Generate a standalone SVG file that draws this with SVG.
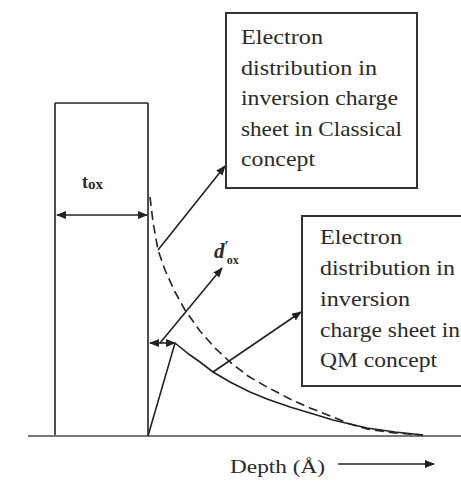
<svg xmlns="http://www.w3.org/2000/svg" width="461" height="485" viewBox="0 0 461 485">
  <style>
    .ln { stroke: #222; stroke-width: 1.6; fill: none; }
    .box { stroke: #333; stroke-width: 2; fill: #fff; }
    .txt { font-family: "Liberation Serif", "Times New Roman", serif; font-size: 21px; fill: #2a2a2a; }
    .lbl { font-family: "Liberation Serif", "Times New Roman", serif; fill: #2a2a2a; }
  </style>
  <defs>
    <marker id="ah" viewBox="0 0 10 8" refX="9" refY="4" markerWidth="10" markerHeight="8" markerUnits="userSpaceOnUse" orient="auto-start-reverse">
      <path d="M0,0 L10,4 L0,8 Z" fill="#222"/>
    </marker>
  </defs>
  <rect width="461" height="485" fill="#fff"/>

  <g id="oxide">
    <line class="ln" x1="55" y1="103" x2="55" y2="436"/>
    <line class="ln" x1="55" y1="103" x2="148" y2="103"/>
    <line class="ln" x1="148" y1="103" x2="148" y2="436"/>
  </g>

  <g id="baseline">
    <line x1="28" y1="436" x2="461" y2="436" stroke="#777" stroke-width="2"/>
  </g>

  <g id="classical-curve">
    <polyline class="ln" stroke-dasharray="9,5" points="150,197 153,222 158,250 165,270 175,292 185,310 200,331 215,348 230,362 248,376 267,387 290,399 310,408 333,417 350,424 367,429 395,433 423,435"/>
  </g>

  <g id="qm-curve">
    <polyline class="ln" points="148,436 175,343 190,355 200,362 213,372 230,382 250,392 267,399 290,407 310,413 333,420 367,428 395,432 423,435"/>
  </g>

  <g id="box-classical">
    <rect class="box" x="226" y="13" width="191" height="175"/>
    <text class="txt" x="241" y="44" textLength="82" lengthAdjust="spacingAndGlyphs">Electron</text>
    <text class="txt" x="241" y="75" textLength="136" lengthAdjust="spacingAndGlyphs">distribution in</text>
    <text class="txt" x="241" y="105" textLength="157" lengthAdjust="spacingAndGlyphs">inversion charge</text>
    <text class="txt" x="241" y="136" textLength="161" lengthAdjust="spacingAndGlyphs">sheet in Classical</text>
    <text class="txt" x="241" y="166" textLength="74" lengthAdjust="spacingAndGlyphs">concept</text>
  </g>

  <g id="box-qm">
    <rect class="box" x="302" y="216" width="175" height="170"/>
    <text class="txt" x="320" y="244" textLength="82" lengthAdjust="spacingAndGlyphs">Electron</text>
    <text class="txt" x="320" y="275" textLength="135" lengthAdjust="spacingAndGlyphs">distribution in</text>
    <text class="txt" x="320" y="306" textLength="90" lengthAdjust="spacingAndGlyphs">inversion</text>
    <text class="txt" x="320" y="337" textLength="140" lengthAdjust="spacingAndGlyphs">charge sheet in</text>
    <text class="txt" x="320" y="367" textLength="117" lengthAdjust="spacingAndGlyphs">QM concept</text>
  </g>

  <g id="tox-label">
    <text class="lbl" x="82" y="188" font-size="18" font-weight="bold">t<tspan font-size="15" dy="1">ox</tspan></text>
  </g>

  <g id="dox-label">
    <text class="lbl" x="214" y="258" font-weight="bold"><tspan font-size="21" font-style="italic">d</tspan><tspan font-size="15" dy="-7">′</tspan><tspan font-size="12" dx="-2" dy="13">ox</tspan></text>
  </g>

  <g id="depth-label">
    <text class="lbl" x="230" y="473" font-size="19" textLength="95" lengthAdjust="spacingAndGlyphs">Depth (Å)</text>
  </g>

  <g id="connectors">
    <line class="ln" x1="57" y1="215" x2="147" y2="215" marker-start="url(#ah)" marker-end="url(#ah)"/>
    <line class="ln" x1="158" y1="250" x2="225" y2="166" marker-end="url(#ah)"/>
    <line class="ln" x1="160" y1="343" x2="222" y2="268" marker-end="url(#ah)"/>
    <line class="ln" x1="150" y1="343" x2="175" y2="343" marker-start="url(#ah)" marker-end="url(#ah)"/>
    <line class="ln" x1="213" y1="372" x2="301" y2="312" marker-end="url(#ah)"/>
    <line class="ln" x1="338" y1="464" x2="434" y2="464" marker-end="url(#ah)"/>
  </g>
</svg>
